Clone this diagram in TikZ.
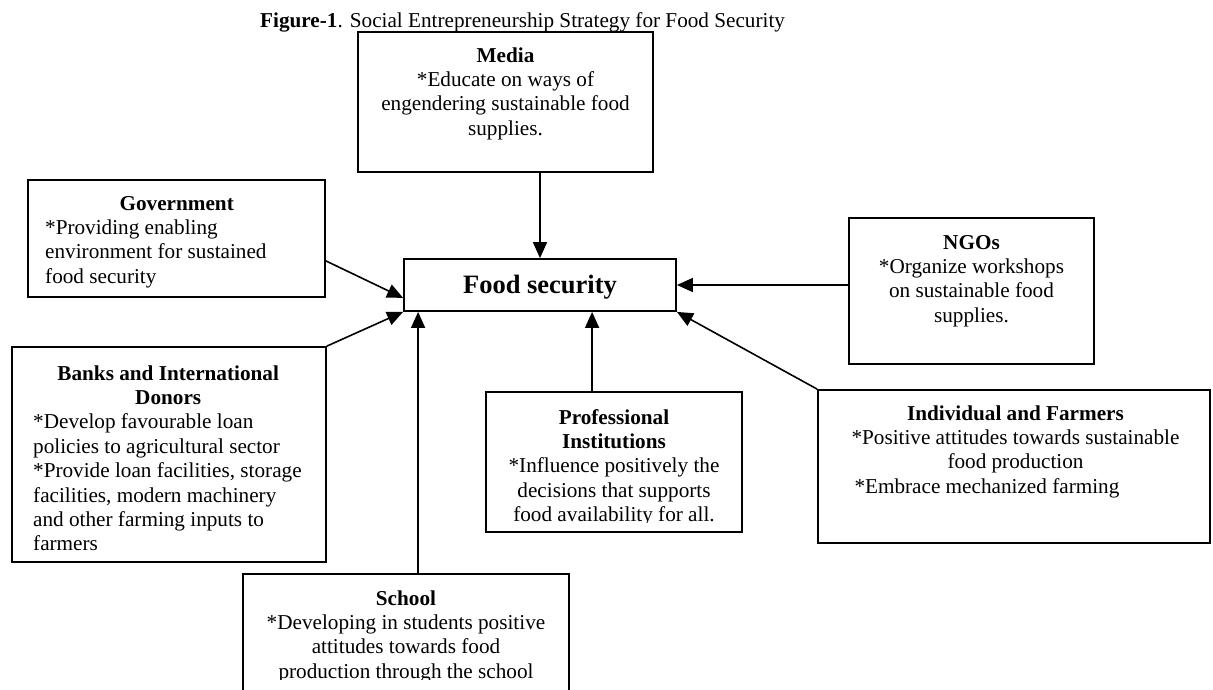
\documentclass[tikz,border=0pt]{standalone}
\usepackage{fontspec}
\setmainfont{Liberation Serif}
\usetikzlibrary{arrows.meta,calc,fit}
\newcommand\bodysize{\fontsize{21.2pt}{24.4pt}\selectfont}
\begin{document}
\begin{tikzpicture}[x=1pt,y=-1pt,
  boxst/.style={draw=black, line width=1.8pt, inner sep=0pt, rectangle},
  txt/.style={inner sep=0pt, font=\bodysize},
  arr/.style={line width=1.6pt, -{Triangle[length=16pt,width=14pt]}},
]
\path[use as bounding box, fill=white] (0,0) rectangle (1213,689);
\clip (0,0) rectangle (1213,689);

% caption
\node[txt, anchor=base west] (title) at (260,27)
  {\textbf{Figure-1}. Social Entrepreneurship Strategy for Food Security};

% frames
\node[boxst, fit={(358,32) (653,172)}] (media) {};
\node[boxst, fit={(28,180) (325,297)}] (gov) {};
\node[boxst, fit={(404,259) (676,311)}] (fs) {};
\node[boxst, fit={(849,218) (1094,364)}] (ngo) {};
\node[boxst, fit={(12,347) (326,562)}] (banks) {};
\node[boxst, fit={(486,392) (742,532)}] (prof) {};
\node[boxst, fit={(818,390) (1210,543)}] (indiv) {};
\node[boxst, fit={(243,574) (569,720)}] (school) {};

% texts
\node[inner sep=0pt, font=\fontsize{26.5pt}{30pt}\selectfont\bfseries, anchor=base]
  (fstxt) at (540,293) {Food security};

\node[txt, anchor=north, align=center] (mediatxt) at (505.5,44.9)
  {\strut\textbf{Media}\\ *Educate on ways of\\ engendering sustainable food\\ supplies.};

\node[txt, anchor=north west, align=left] (govtxt) at (45,192.9)
  {\strut\makebox[263pt]{\textbf{Government}}\\ *Providing enabling\\
   environment for sustained\\ food security};

\node[txt, anchor=north, align=center] (ngotxt) at (971.5,231.9)
  {\strut\textbf{NGOs}\\ *Organize workshops\\ on sustainable food\\ supplies.};

\node[txt, anchor=north west, align=left] (bankstxt) at (33,362.9)
  {\strut\makebox[270pt]{\textbf{Banks and International}}\\
   \makebox[270pt]{\textbf{Donors}}\\
   *Develop favourable loan\\ policies to agricultural sector\\
   *Provide loan facilities, storage\\ facilities, modern machinery\\
   and other farming inputs to\\ farmers};

\begin{scope}
  \clip (486,392) rectangle (742,522);
  \node[txt, anchor=north, align=center] (proftxt) at (614,406.9)
    {\strut\textbf{Professional}\\ \textbf{Institutions}\\
     *Influence positively the\\ decisions that supports\\
     food availability for all.};
\end{scope}

\node[txt, anchor=north, align=center] (indivtxt) at (1015.5,402.9)
  {\strut\textbf{Individual and Farmers}\\
   *Positive attitudes towards sustainable\\ food production\\
   \makebox[328pt][l]{\hspace{3pt}*Embrace mechanized farming}};

\begin{scope}
  \clip (243,574) rectangle (569,679);
  \node[txt, anchor=north, align=center] (schooltxt) at (406,587.9)
    {\strut\textbf{School}\\ *Developing in students positive\\
     attitudes towards food\\ production through the school};
\end{scope}

% connectors
\coordinate (sx) at ($(fs.south west)+(15,0)$);
\coordinate (px) at ($(fs.south west)+(189,0)$);
\draw[arr] (media.south -| fs.north) -- (fs.north);
\draw[arr] (ngo.west |- fs.east) -- (fs.east);
\draw[arr] ($(gov.south east)+(0,-37)$) -- ($(fs.south west)+(0,-14)$);
\draw[arr] (banks.north east) -- (fs.south west);
\draw[arr] (sx |- school.north) -- (sx);
\draw[arr] (px |- prof.north) -- (px);
\draw[arr] (indiv.north west) -- (fs.south east);
\end{tikzpicture}
\end{document}
